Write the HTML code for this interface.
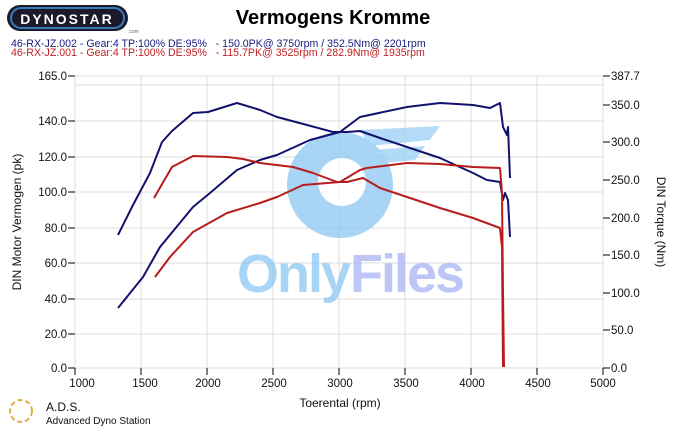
<!DOCTYPE html>
<html><head><meta charset="utf-8"><style>
body{margin:0;background:#fff;}
svg{display:block;font-family:"Liberation Sans",sans-serif;}
</style></head><body>
<svg width="685" height="428" viewBox="0 0 685 428" xmlns="http://www.w3.org/2000/svg">
<rect width="685" height="428" fill="#fff"/>
<rect x="7" y="5" width="121" height="26" rx="13" fill="#1a1a2a"/>
<rect x="11" y="8" width="113" height="20" rx="10" fill="none" stroke="#3a7ab8" stroke-width="2"/>
<text x="67" y="24" font-size="14" font-weight="bold" fill="#fff" text-anchor="middle" letter-spacing="2">DYNOSTAR</text>
<text x="128" y="33" font-size="5" fill="#666">.com</text>
<text x="333" y="24" font-size="20" font-weight="bold" fill="#000" text-anchor="middle">Vermogens Kromme</text>
<text x="11" y="47" font-size="10.6" fill="#1a2080" xml:space="preserve">46-RX-JZ.002 - Gear:4 TP:100% DE:95%   - 150.0PK@ 3750rpm / 352.5Nm@ 2201rpm</text>
<text x="11" y="56" font-size="10.6" fill="#c02020" xml:space="preserve">46-RX-JZ.001 - Gear:4 TP:100% DE:95%   - 115.7PK@ 3525rpm / 282.9Nm@ 1935rpm</text>
<g stroke="#dcdcdc" stroke-width="1">
<line x1="75" y1="85" x2="603" y2="85"/>
<line x1="75" y1="121" x2="603" y2="121"/><line x1="75" y1="157" x2="603" y2="157"/>
<line x1="75" y1="192" x2="603" y2="192"/><line x1="75" y1="228" x2="603" y2="228"/>
<line x1="75" y1="263" x2="603" y2="263"/><line x1="75" y1="299" x2="603" y2="299"/>
<line x1="75" y1="334" x2="603" y2="334"/>
<line x1="141" y1="76" x2="141" y2="368"/><line x1="207" y1="76" x2="207" y2="368"/>
<line x1="273" y1="76" x2="273" y2="368"/><line x1="339" y1="76" x2="339" y2="368"/>
<line x1="405" y1="76" x2="405" y2="368"/><line x1="471" y1="76" x2="471" y2="368"/>
<line x1="537" y1="76" x2="537" y2="368"/>
<line x1="75" y1="76" x2="603" y2="76"/><line x1="75" y1="368" x2="603" y2="368"/>
<line x1="75" y1="76" x2="75" y2="368"/><line x1="603" y1="76" x2="603" y2="368"/>
</g>
<g stroke="#000" stroke-width="1">
<line x1="68" y1="76" x2="75" y2="76"/><line x1="68" y1="121" x2="75" y2="121"/><line x1="68" y1="157" x2="75" y2="157"/><line x1="68" y1="192" x2="75" y2="192"/><line x1="68" y1="228" x2="75" y2="228"/><line x1="68" y1="263" x2="75" y2="263"/><line x1="68" y1="299" x2="75" y2="299"/><line x1="68" y1="334" x2="75" y2="334"/><line x1="68" y1="368" x2="75" y2="368"/>
<line x1="603" y1="76" x2="610" y2="76"/><line x1="603" y1="105" x2="610" y2="105"/><line x1="603" y1="142" x2="610" y2="142"/><line x1="603" y1="180" x2="610" y2="180"/><line x1="603" y1="218" x2="610" y2="218"/><line x1="603" y1="255" x2="610" y2="255"/><line x1="603" y1="293" x2="610" y2="293"/><line x1="603" y1="330" x2="610" y2="330"/><line x1="603" y1="368" x2="610" y2="368"/>
<line x1="75" y1="368" x2="75" y2="375"/><line x1="141" y1="368" x2="141" y2="375"/><line x1="207" y1="368" x2="207" y2="375"/><line x1="273" y1="368" x2="273" y2="375"/><line x1="339" y1="368" x2="339" y2="375"/><line x1="405" y1="368" x2="405" y2="375"/><line x1="471" y1="368" x2="471" y2="375"/><line x1="537" y1="368" x2="537" y2="375"/><line x1="603" y1="368" x2="603" y2="375"/>
</g>
<g font-size="11.5" fill="#111" text-anchor="end">
<text x="67" y="80">165.0</text><text x="67" y="125">140.0</text><text x="67" y="161">120.0</text><text x="67" y="196">100.0</text><text x="67" y="232">80.0</text><text x="67" y="267">60.0</text><text x="67" y="303">40.0</text><text x="67" y="338">20.0</text><text x="67" y="372">0.0</text>
</g>
<g font-size="11.5" fill="#111">
<text x="611" y="80">387.7</text><text x="611" y="109">350.0</text><text x="611" y="146">300.0</text><text x="611" y="184">250.0</text><text x="611" y="222">200.0</text><text x="611" y="259">150.0</text><text x="611" y="297">100.0</text><text x="611" y="334">50.0</text><text x="611" y="372">0.0</text>
</g>
<g font-size="11.5" fill="#111" text-anchor="middle">
<text x="82" y="387">1000</text><text x="145" y="387">1500</text><text x="208" y="387">2000</text><text x="274" y="387">2500</text><text x="340" y="387">3000</text><text x="406" y="387">3500</text><text x="472" y="387">4000</text><text x="538" y="387">4500</text><text x="603" y="387">5000</text>
<text x="340" y="407" font-size="12">Toerental (rpm)</text>
</g>
<text transform="translate(21,222) rotate(-90)" font-size="12" text-anchor="middle" fill="#111">DIN Motor Vermogen (pk)</text>
<text transform="translate(657,222) rotate(90)" font-size="12" text-anchor="middle" fill="#111">DIN Torque (Nm)</text>
<g opacity="0.75">
<path d="M360 130 L440 126 L430 140 L370 146Z" fill="#9ad0f5"/>
<path d="M370 150 L425 146 L415 160 L375 164Z" fill="#9ad0f5"/>
<circle cx="340" cy="185" r="53" fill="#8cc8f2"/>
<circle cx="342" cy="182" r="24" fill="#fff"/>
<text x="237" y="292" font-size="54" font-weight="bold" fill="#8cc8f2" letter-spacing="-2">Only</text>
<text x="350" y="292" font-size="54" font-weight="bold" fill="#a8b4f5" letter-spacing="-2">Files</text>
</g>
<g fill="none" stroke-width="2" stroke-linejoin="round">
<polyline stroke="#12126e" points="118,235 133,205 150,173 162,142 172,131 193,113 208,112 237,103 260,110 277,117 307,125 333,132 347,132 360,131 380,138 407,147 440,158 473,173 487,180 500,182 503,200 505,193 508,200 510,237"/>
<polyline stroke="#12126e" points="118,308 143,277 160,247 193,207 210,193 237,170 260,160 277,155 310,140 340,132 360,117 407,107 440,103 473,105 490,108 500,103 503,127 507,135 508,127 510,178"/>
<polyline stroke="#b81c1c" points="154,198 172,167 193,156 227,157 243,159 260,163 293,167 313,173 337,182 347,182 363,178 380,188 407,197 440,208 473,218 500,228 502,247 503,367"/>
<polyline stroke="#b81c1c" points="155,277 170,257 193,232 227,213 260,203 277,197 303,185 340,182 360,170 367,168 407,163 440,164 473,167 500,168 502,193 503,293 504,367"/>
</g>
<circle cx="21" cy="411" r="11" fill="none" stroke="#e0b040" stroke-width="2" stroke-dasharray="5 3"/>
<text x="46" y="411" font-size="12" fill="#111">A.D.S.</text>
<text x="46" y="424" font-size="10" fill="#111">Advanced Dyno Station</text>
</svg>
</body></html>
